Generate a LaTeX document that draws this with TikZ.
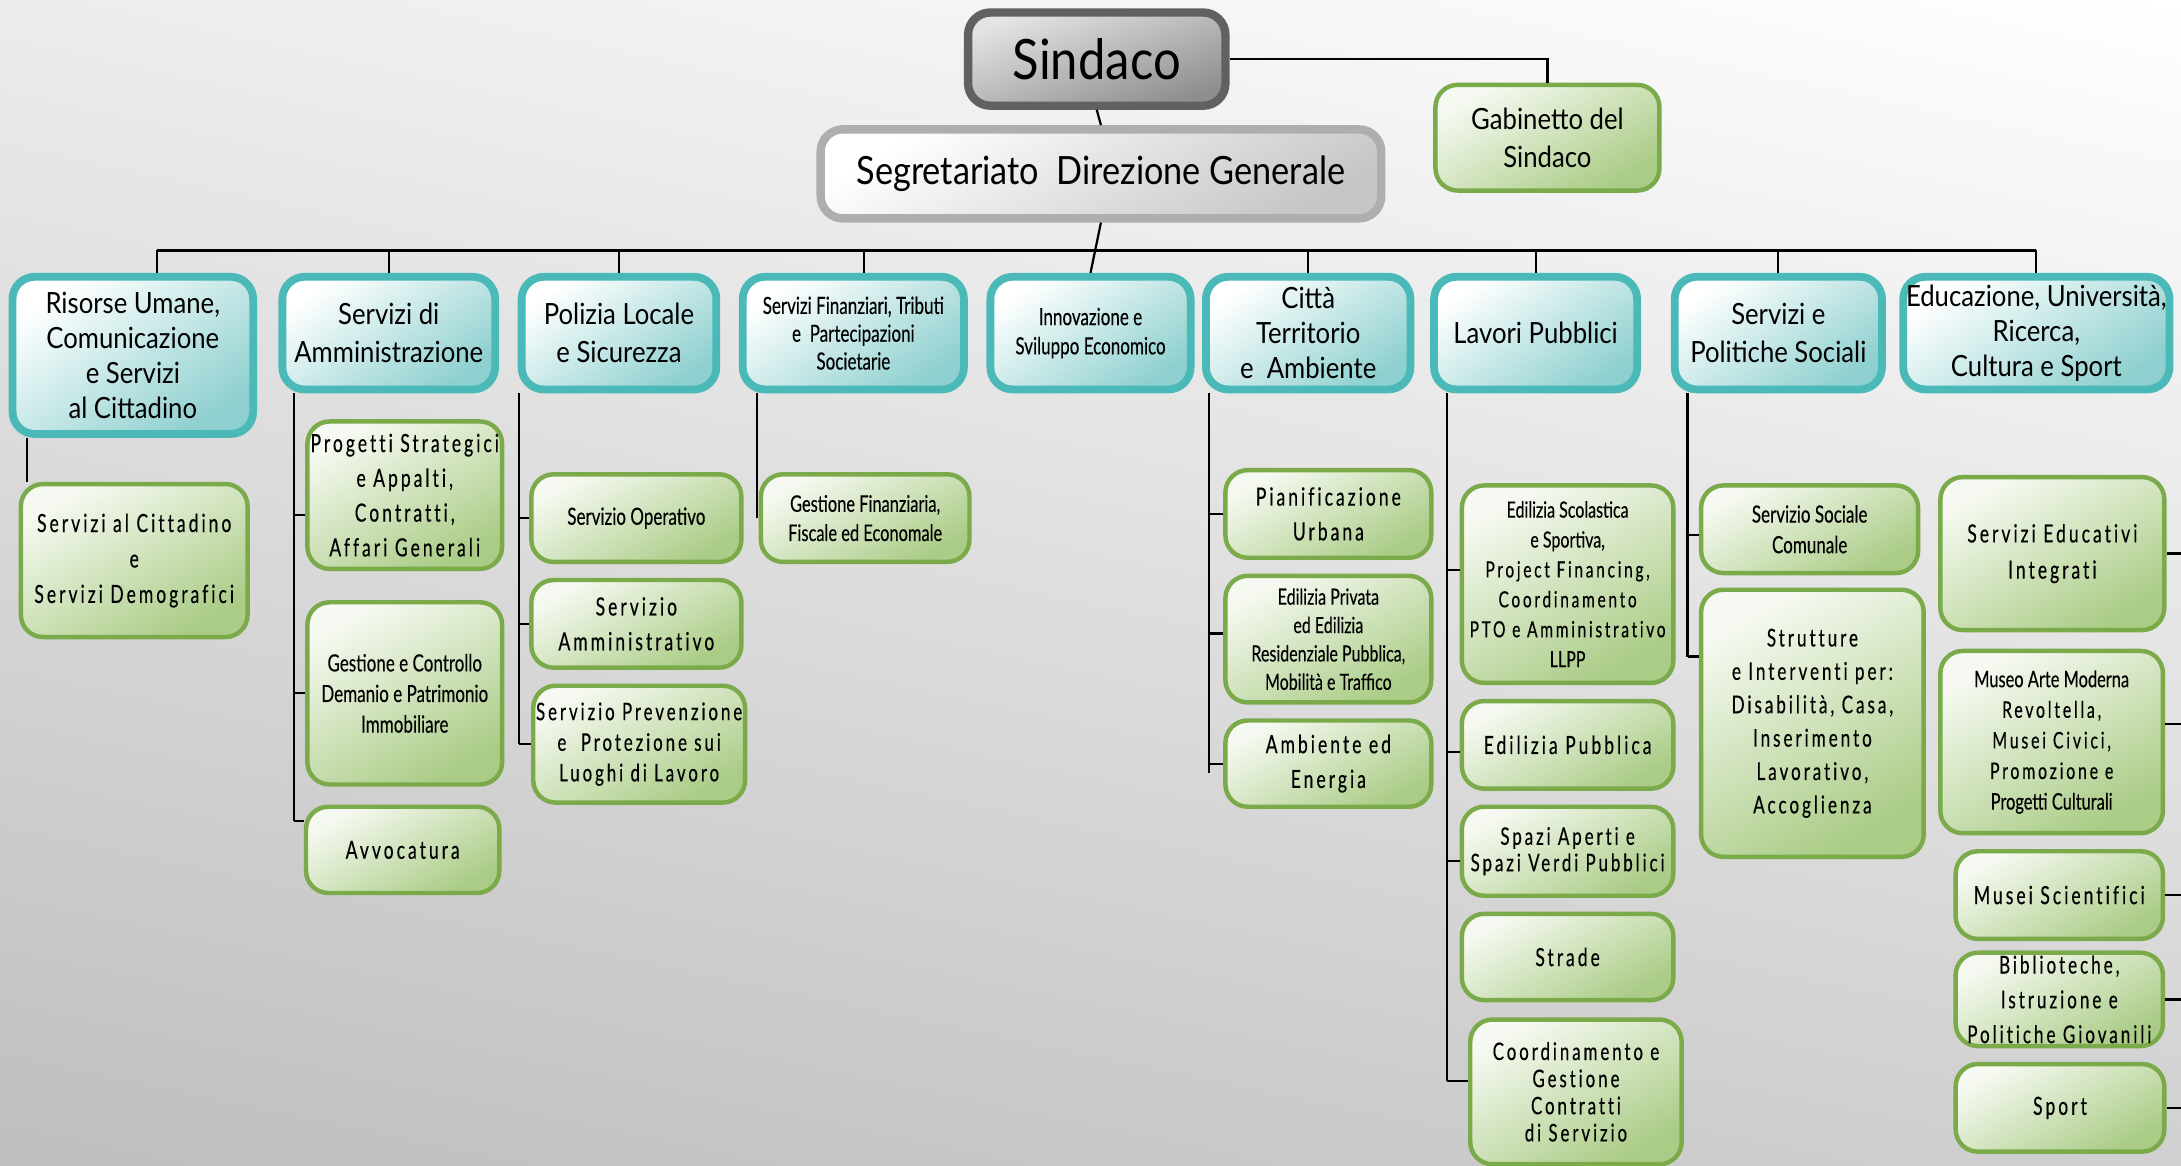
\documentclass[tikz,border=0pt]{standalone}
\usepackage{fontspec}
\setmainfont[FakeStretch=0.88]{Lato}
\newfontfamily\condf[FakeStretch=0.72,FakeBold=0.25]{Lato}
\newfontfamily\spacf[FakeStretch=0.7,LetterSpace=12,FakeBold=0.3,Ligatures=NoCommon]{Lato}
\usetikzlibrary{calc,shadings}
\definecolor{tealB}{HTML}{4AB9B8}
\definecolor{tealF}{HTML}{8ED0CF}
\definecolor{greenB}{HTML}{7BAA4A}
\definecolor{greenF}{HTML}{AACC86}
\definecolor{greenT}{HTML}{F6F9F1}
\definecolor{sindB}{HTML}{616161}
\definecolor{sindT}{HTML}{E4E4E4}
\definecolor{sindF}{HTML}{8E8E8E}
\definecolor{segB}{HTML}{AEAEAE}
\definecolor{segF}{HTML}{C6C6C6}
\definecolor{bgTL}{HTML}{ECECEC}
\definecolor{bgBL}{HTML}{BEBEBE}
\definecolor{bgBR}{HTML}{D0D0D0}
\tikzset{
  basebox/.style={rounded corners=8pt, align=center, inner sep=1pt, text=black},
  tealbox/.style={basebox, draw=tealB, line width=2.8pt, top color=white, bottom color=tealF, shading angle=35, font=\fontsize{10.5}{12.5}\selectfont},
  greenbox/.style={basebox, draw=greenB, line width=1.6pt, top color=greenT, bottom color=greenF, shading angle=30},
  sindbox/.style={basebox, draw=sindB, line width=3pt, top color=sindT, bottom color=sindF, shading angle=20, font=\fontsize{20}{24}\selectfont},
  segbox/.style={basebox, draw=segB, line width=3pt, top color=white, bottom color=segF, shading angle=30, font=\fontsize{14}{17}\selectfont},
  gabbox/.style={greenbox, font=\fontsize{10.5}{13.5}\selectfont},
  conn/.style={draw=black, line width=0.8pt},
  busline/.style={draw=black, line width=1.1pt},
}
\newcommand\bx[7]{\node[#6, minimum width={(#4-#2)*0.5pt-1pt}, minimum height={(#5-#3)*0.5pt-1pt}] (#1) at ({(#2+#4)/2},{(#3+#5)/2}) {#7};}
\newcommand\kid[3]{\path ($(#2.west)+(0,#3)$) coordinate (t#2); \draw[conn] (#1 |- t#2) -- (t#2);}
\newcommand\kidr[3]{\path ($(#2.east)+(0,#3)$) coordinate (t#2); \draw[conn] (#1 |- t#2) -- (t#2);}
\begin{document}
\begin{tikzpicture}[x=0.5pt,y=-0.5pt]
\useasboundingbox (0,0) rectangle (1568,838);
\shade[upper left=bgTL, upper right=white, lower left=bgBL, lower right=bgBR] (0,0) rectangle (1568,838);

% top
\bx{sindaco}{695}{8}{882}{77}{sindbox}{Sindaco}
\bx{segr}{589}{92}{994}{158}{segbox}{Segretariato\ \ Direzione Generale}
\bx{gab}{1031}{60}{1194}{138}{gabbox}{Gabinetto del\\Sindaco}

% departments
\bx{risorse}{8}{198}{183}{313}{tealbox}{Risorse Umane,\\Comunicazione\\e Servizi\\al Cittadino}
\bx{amm}{202}{198}{357}{281}{tealbox}{Servizi di\\[1pt]Amministrazione}
\bx{pol}{374}{198}{516}{281}{tealbox}{Polizia Locale\\[1pt]e Sicurezza}
\bx{fin}{533}{198}{694}{281}{tealbox,font=\condf\fontsize{8.5}{10}\selectfont}{Servizi Finanziari, Tributi\\e\ \ Partecipazioni\\Societarie}
\bx{inn}{711}{198}{857}{281}{tealbox,font=\condf\fontsize{8.5}{10.5}\selectfont}{Innovazione e\\Sviluppo Economico}
\bx{citta}{866}{198}{1015}{281}{tealbox}{Città\\Territorio\\e\ \ Ambiente}
\bx{lav}{1030}{198}{1178}{281}{tealbox}{Lavori Pubblici}
\bx{soc}{1203}{198}{1354}{281}{tealbox}{Servizi e\\[1pt]Politiche Sociali}
\bx{edu}{1370}{198}{1558}{281}{tealbox}{Educazione, Università,\\Ricerca,\\Cultura e Sport}

% children
\bx{cit}{14}{347}{179}{459}{greenbox,font=\spacf\fontsize{9}{12.75}\selectfont}{Servizi al Cittadino\\e\\Servizi Demografici}
\bx{prog}{220}{302}{362}{410}{greenbox,font=\spacf\fontsize{9}{12.5}\selectfont}{Progetti Strategici\\e Appalti,\\Contratti,\\Affari Generali}
\bx{gest}{220}{432}{362}{565}{greenbox,font=\condf\fontsize{8.5}{11}\selectfont}{Gestione e Controllo\\Demanio e Patrimonio\\Immobiliare}
\bx{avv}{219}{579}{360}{643}{greenbox,font=\spacf\fontsize{9}{12}\selectfont}{Avvocatura}
\bx{oper}{381}{340}{534}{405}{greenbox,font=\condf\fontsize{8.5}{11}\selectfont}{Servizio Operativo}
\bx{amv}{381}{416}{534}{481}{greenbox,font=\spacf\fontsize{9}{12.5}\selectfont}{Servizio\\Amministrativo}
\bx{prev}{383}{492}{536}{578}{greenbox,font=\spacf\fontsize{8.7}{11}\selectfont}{Servizio Prevenzione\\e\ \ Protezione sui\\Luoghi di Lavoro}
\bx{gfin}{546}{340}{698}{405}{greenbox,font=\condf\fontsize{8.2}{10.5}\selectfont}{Gestione Finanziaria,\\Fiscale ed Economale}
\bx{pian}{880}{337}{1030}{402}{greenbox,font=\spacf\fontsize{9}{12.5}\selectfont}{Pianificazione\\Urbana}
\bx{epriv}{880}{413}{1030}{506}{greenbox,font=\condf\fontsize{8}{10.2}\selectfont}{Edilizia Privata\\ed Edilizia\\Residenziale Pubblica,\\Mobilità e Traffico}
\bx{amb}{880}{517}{1030}{581}{greenbox,font=\spacf\fontsize{9}{12.5}\selectfont}{Ambiente ed\\Energia}
\bx{escol}{1050}{348}{1204}{492}{greenbox,font=\fontsize{8}{10.75}\selectfont}{{\condf Edilizia Scolastica}\\{\condf e Sportiva,}\\{\spacf Project Financing,}\\{\spacf Coordinamento}\\{\spacf PTO e Amministrativo}\\{\condf LLPP}}
\bx{epub}{1050}{503}{1204}{568}{greenbox,font=\spacf\fontsize{9}{12}\selectfont}{Edilizia Pubblica}
\bx{spazi}{1050}{579}{1204}{645}{greenbox,font=\spacf\fontsize{8.7}{9.5}\selectfont}{Spazi Aperti e\\Spazi Verdi Pubblici}
\bx{strade}{1050}{656}{1204}{720}{greenbox,font=\spacf\fontsize{9}{12}\selectfont}{Strade}
\bx{coord}{1056}{732}{1210}{838}{greenbox,font=\spacf\fontsize{8.7}{9.75}\selectfont}{Coordinamento e\\Gestione\\Contratti\\di Servizio}
\bx{ssc}{1222}{348}{1380}{413}{greenbox,font=\condf\fontsize{8.5}{11}\selectfont}{Servizio Sociale\\Comunale}
\bx{strut}{1222}{423}{1384}{617}{greenbox,font=\spacf\fontsize{8.8}{12}\selectfont}{Strutture\\e Interventi per:\\Disabilità, Casa,\\Inserimento\\Lavorativo,\\Accoglienza}
\bx{sei}{1394}{342}{1557}{454}{greenbox,font=\spacf\fontsize{9}{13}\selectfont}{Servizi Educativi\\Integrati}
\bx{museo}{1394}{467}{1556}{600}{greenbox,font=\fontsize{8.2}{11}\selectfont}{{\condf Museo Arte Moderna}\\{\spacf Revoltella,}\\{\spacf Musei Civici,}\\{\spacf Promozione e}\\{\condf Progetti Culturali}}
\bx{msci}{1405}{611}{1556}{676}{greenbox,font=\spacf\fontsize{9}{12}\selectfont}{Musei Scientifici}
\bx{bibl}{1405}{687}{1556}{750}{greenbox,font=\spacf\fontsize{8.8}{12.5}\selectfont}{Biblioteche,\\Istruzione e\\Politiche Giovanili}
\bx{sport}{1405}{764}{1557}{829}{greenbox,font=\spacf\fontsize{9}{12}\selectfont}{Sport}

% connectors top
\coordinate (bus) at (0,180);
\draw[conn] (sindaco.south) -- (segr.north);
\draw[conn] (sindaco.east) -| (gab.north);
\draw[conn] (segr.south) -- (inn.north);
\coordinate (dR) at ($(risorse.north)+(17.5,0)$);
\coordinate (dF) at ($(fin.north)+(7.5,0)$);
\draw[busline] (dR |- bus) -- (edu.north |- bus);
\foreach \n in {dR, amm.north, pol.north, dF, citta.north, lav.north, soc.north, edu.north}
  \draw[conn] (\n |- bus) -- (\n);

% Risorse
\coordinate (cR) at ($(risorse.south west)+(13,0)$);
\draw[conn] (cR) -- (cR |- cit.north);
% Amministrazione
\coordinate (cA) at ($(amm.south west)+(11,0)$);
\kid{cA}{prog}{14}
\kid{cA}{gest}{0}
\kid{cA}{avv}{-21}
\draw[conn] (cA) -- (cA |- tavv);
% Polizia
\coordinate (cP) at ($(pol.south west)+(1,0)$);
\kid{cP}{oper}{0}
\kid{cP}{amv}{0}
\kid{cP}{prev}{0}
\draw[conn] (cP) -- (cP |- tprev);
% Finanziari
\coordinate (cF) at ($(fin.south west)+(13,0)$);
\draw[conn] (cF) -- (cF |- gfin.west);
% Citta
\coordinate (cC) at ($(citta.south west)+(5,0)$);
\kid{cC}{pian}{0}
\kid{cC}{epriv}{-4}
\kid{cC}{amb}{0}
\draw[conn] (cC) -- ($(cC |- tamb)+(0,7)$);
% Lavori
\coordinate (cL) at ($(lav.south west)+(12,0)$);
\kid{cL}{escol}{-10}
\kid{cL}{epub}{5}
\kid{cL}{spazi}{7}
\kid{cL}{coord}{-8}
\draw[conn] (cL) -- (cL |- tcoord);
% Sociali
\coordinate (cS) at ($(soc.south west)+(12,0)$);
\kid{cS}{ssc}{4}
\kid{cS}{strut}{-48}
\draw[conn] (cS) -- (cS |- tstrut);
% Educazione
\coordinate (cE) at ($(edu.east)+(6,-9)$);
\kidr{cE}{sei}{0}
\kidr{cE}{museo}{-13}
\kidr{cE}{msci}{0}
\kidr{cE}{bibl}{0}
\kidr{cE}{sport}{0}
\draw[conn] (cE) -- (cE |- tsport);
\end{tikzpicture}
\end{document}
